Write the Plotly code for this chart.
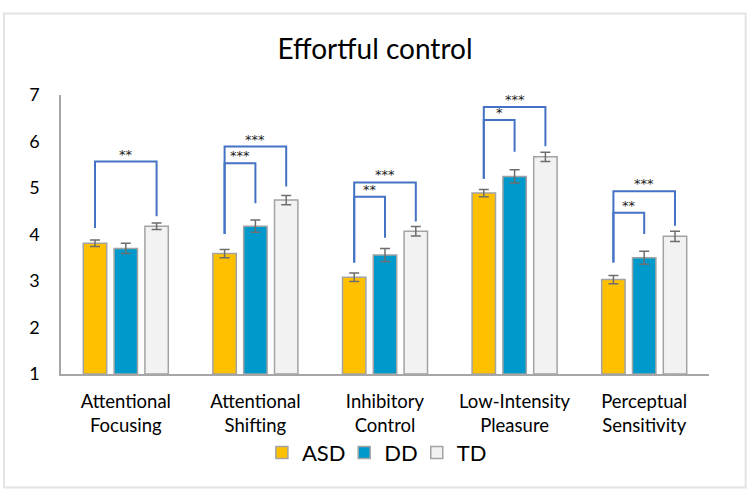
import plotly.graph_objects as go

categories = ["Attentional<br>Focusing", "Attentional<br>Shifting", "Inhibitory<br>Control",
              "Low-Intensity<br>Pleasure", "Perceptual<br>Sensitivity"]
series_names = ["ASD", "DD", "TD"]
asd = [3.81, 3.59, 3.08, 4.89, 3.03]
dd = [3.70, 4.18, 3.56, 5.25, 3.50]
td = [4.18, 4.74, 4.07, 5.67, 3.96]
asd_err = [0.07, 0.09, 0.09, 0.08, 0.09]
dd_err = [0.11, 0.13, 0.14, 0.14, 0.14]
td_err = [0.07, 0.10, 0.10, 0.10, 0.11]
y_ticks = [1, 2, 3, 4, 5, 6, 7]

# significance brackets: (category index, from series, to series, bar-level y, left foot, right foot, label)
brackets = [
    (0, 0, 2, 5.57, 4.14, 4.39, "**"),
    (1, 0, 1, 5.53, 4.01, 4.67, "***"),
    (1, 0, 2, 5.89, 4.01, 5.03, "***"),
    (2, 0, 1, 4.81, 3.40, 3.93, "**"),
    (2, 0, 2, 5.12, 3.40, 4.28, "***"),
    (3, 0, 1, 6.46, 5.20, 5.78, "*"),
    (3, 0, 2, 6.74, 5.20, 5.90, "***"),
    (4, 0, 1, 4.47, 3.40, 4.01, "**"),
    (4, 0, 2, 4.93, 3.40, 4.19, "***"),
]

colors = ["#FFC000", "#0099CC", "#F2F2F2"]
legend_ids = ["legend", "legend2", "legend3"]
legend_x = [0.310, 0.437, 0.549]
FONT = "Lato"
bargap = 0.287

fig = go.Figure()
for name, vals, errs, col, lid in zip(series_names, [asd, dd, td], [asd_err, dd_err, td_err], colors, legend_ids):
    fig.add_trace(go.Bar(
        x=categories, y=[v - 1 for v in vals], base=1, name=name, legend=lid, showlegend=True,
        marker=dict(color=col, line=dict(color="#A3A3A3", width=1.5)),
        error_y=dict(type="data", array=errs, color="#6E6E6E", thickness=1.5, width=5),
    ))

slot = (1 - bargap) / 3
shapes = []
annotations = []
for ci, s0, s1, ytop, yl, yr, lab in brackets:
    xl = ci + (s0 - 1) * slot
    xr = ci + (s1 - 1) * slot
    shapes.append(dict(type="path", xref="x", yref="y",
                       path=f"M {xl},{yl} L {xl},{ytop} L {xr},{ytop} L {xr},{yr}",
                       line=dict(color="#4472C4", width=2)))
    annotations.append(dict(x=(xl + xr) / 2, y=ytop, xref="x", yref="y", text=lab,
                            showarrow=False, yanchor="bottom", yshift=-2,
                            font=dict(family="DejaVu Sans", size=13, color="#1A1A1A")))

# outer chart frame
shapes.append(dict(type="rect", xref="paper", yref="paper", x0=-0.088, x1=1.0566, y0=-0.407, y1=1.292,
                   line=dict(color="#E3E3E3", width=2), fillcolor="rgba(0,0,0,0)", layer="below"))

legend_common = dict(orientation="h", xanchor="left", y=-0.282, yanchor="middle",
                     bgcolor="rgba(0,0,0,0)", font=dict(family=FONT, size=22, color="#000000"))

fig.update_layout(
    width=750, height=493,
    margin=dict(l=61, r=41, t=95, b=119),
    paper_bgcolor="white", plot_bgcolor="white",
    showlegend=True,
    barmode="group", bargap=bargap, bargroupgap=0.24,
    title=dict(text="Effortful control", x=0.5, xref="container", y=0.9, yanchor="middle",
               font=dict(family=FONT, size=28, color="#000000")),
    font=dict(family=FONT, color="#000000"),
    xaxis=dict(showline=True, linecolor="#A6A6A6", linewidth=1.5, ticks="outside", ticklen=10,
               tickcolor="rgba(0,0,0,0)", tickfont=dict(family=FONT, size=18.5, color="#000000"),
               showgrid=False, range=[-0.5, 4.5]),
    yaxis=dict(range=[1, 7], tickvals=y_ticks, showline=True, linecolor="#A6A6A6", linewidth=1.5,
               showgrid=False, zeroline=False, ticks="outside", ticklen=16, tickcolor="rgba(0,0,0,0)",
               tickfont=dict(family=FONT, size=18, color="#000000")),
    legend=dict(x=legend_x[0], **legend_common),
    legend2=dict(x=legend_x[1], **legend_common),
    legend3=dict(x=legend_x[2], **legend_common),
    shapes=shapes, annotations=annotations,
)

fig.write_html("out.html", config={"displayModeBar": False},
               post_script="document.body.style.margin='0';document.body.style.padding='0';")
